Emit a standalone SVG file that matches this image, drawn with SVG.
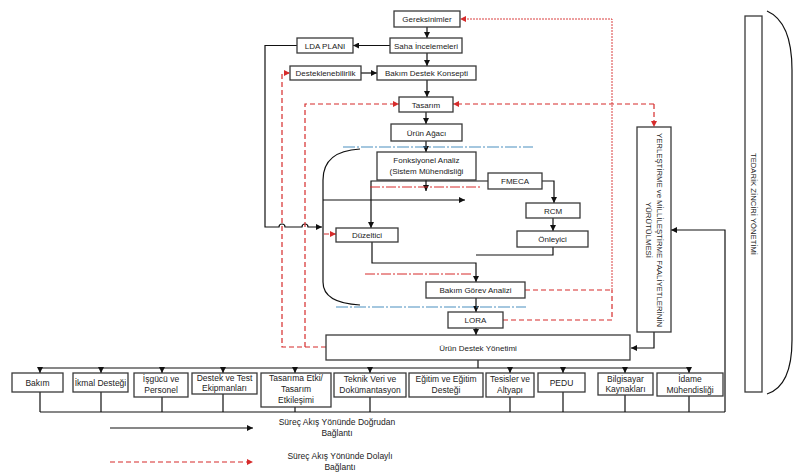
<svg xmlns="http://www.w3.org/2000/svg" width="800" height="476" viewBox="0 0 800 476">
<defs>
<style>
.b{fill:#fff;stroke:#3a3a3a;stroke-width:1.3}
.t{font-family:"Liberation Sans",Arial,sans-serif;font-size:8px;fill:#222;text-anchor:middle}
.t2{font-family:"Liberation Sans",Arial,sans-serif;font-size:8.5px;fill:#222;text-anchor:middle}
.k{fill:none;stroke:#111;stroke-width:1.2}
.ka{fill:none;stroke:#111;stroke-width:1.2;marker-end:url(#ab)}
.r{fill:none;stroke:#d62b2b;stroke-width:1.2;stroke-dasharray:5,3}
.ra{fill:none;stroke:#d62b2b;stroke-width:1.2;stroke-dasharray:5,3;marker-end:url(#ar)}
.rf{fill:none;stroke:#d62b2b;stroke-width:0.9;stroke-dasharray:2,1}
.rd{fill:none;stroke:#d62b2b;stroke-width:1;stroke-dasharray:10,2,2,2}
.bd{fill:none;stroke:#4a8fc0;stroke-width:1.2;stroke-dasharray:12,2,2,2}
</style>
<marker id="ab" viewBox="0 0 10 10" refX="10" refY="5" markerWidth="6" markerHeight="6" markerUnits="userSpaceOnUse" orient="auto"><path d="M0,0 L10,5 L0,10z" fill="#111"/></marker>
<marker id="ar" viewBox="0 0 10 10" refX="10" refY="5" markerWidth="6" markerHeight="6" markerUnits="userSpaceOnUse" orient="auto"><path d="M0,0 L10,5 L0,10z" fill="#d62b2b"/></marker>
</defs>
<rect width="800" height="476" fill="#fff"/>

<g id="connectors">
<!-- main flow black -->
<path class="ka" d="M427,27 V38"/>
<path class="ka" d="M427,53 V66"/>
<path class="ka" d="M427,80 V97"/>
<path class="ka" d="M426,112 V124"/>
<path class="ka" d="M426,141 V152"/>
<path class="ka" d="M426,180 V191"/>
<path class="ka" d="M390,45.5 H353"/>
<path class="ka" d="M361,73 H377"/>
<path class="ka" d="M297,45.5 H265 V227 H279 a3,3 0 0 1 6,0 H302 a3,3 0 0 1 6,0 H322"/>
<path class="k" d="M360,149 Q323,151 323,180 V282 Q323,303 360,305"/>
<path class="ka" d="M323,200 H465"/>
<path class="ka" d="M488,181 H371 V228"/>
<path class="ka" d="M542,181 H554 V203"/>
<path class="ka" d="M553,218 V231"/>
<path class="ka" d="M372,242 V263 H476 V282"/>
<path class="k" d="M553,247 V255 H476"/>
<path class="ka" d="M476,298 V312"/>
<path class="ka" d="M476,328 V335"/>
<path class="ka" d="M654,332 V348 H631"/>
<path class="ka" d="M725,412 V230 H671"/>
<!-- distribution bars -->
<path class="k" d="M478,360 V368"/>
<path class="k" d="M40,368 H689"/>
<path class="k" d="M40,412 H725"/>
<path class="ka" d="M40,368 V373"/>
<path class="ka" d="M101,368 V373"/>
<path class="ka" d="M162,368 V373"/>
<path class="ka" d="M223,368 V373"/>
<path class="ka" d="M295,368 V373"/>
<path class="ka" d="M370,368 V373"/>
<path class="ka" d="M510,368 V373"/>
<path class="ka" d="M563,368 V373"/>
<path class="ka" d="M625,368 V373"/>
<path class="ka" d="M689,368 V373"/>
<path class="k" d="M40,392 V412 M101,392 V412 M162,397 V412 M223,394 V412 M295,407 V412 M370,397 V412 M510,397 V412 M563,392 V412 M625,395 V412 M689,396 V412"/>
<!-- red indirect -->
<path class="rf" d="M612,290 V19 H466"/>
<path fill="#d62b2b" d="M460,19 L466,16 L466,22z"/>
<path class="r" d="M525,290 H612"/>
<path class="r" d="M503,320 H612 V290"/>
<path class="ra" d="M326,347 H282 V73 H290"/>
<path class="ra" d="M305,347 V104 H399"/>
<path class="ra" d="M324,234 H336"/>
<path class="ra" d="M654,104 H453"/>
<path class="ra" d="M654,104 V127"/>
<!-- dash-dot guide lines -->
<path class="bd" d="M343,147 H533"/>
<path class="bd" d="M336,307 H526"/>
<path class="rd" d="M370,187 H480"/>
<path class="rd" d="M365,274 H473"/>
<!-- supply chain bracket -->
<path class="k" d="M767,11 Q792,22 792,70 V340 Q792,386 767,394"/>
</g>

<g id="gereksinimler"><rect class="b" x="394" y="11" width="66" height="16"/><text class="t" x="427" y="22">Gereksinimler</text></g>
<g id="saha"><rect class="b" x="390" y="38" width="72" height="15"/><text class="t" x="426" y="48.5">Saha İncelemeleri</text></g>
<g id="lda"><rect class="b" x="297" y="38" width="56" height="15"/><text class="t" x="325" y="48.5">LDA PLANI</text></g>
<g id="desteklenebilirlik"><rect class="b" x="290" y="66" width="71" height="14"/><text class="t" x="325.5" y="76">Desteklenebilirlik</text></g>
<g id="bdk"><rect class="b" x="377" y="66" width="99" height="14"/><text class="t" x="426.5" y="76">Bakım Destek Konsepti</text></g>
<g id="tasarim"><rect class="b" x="399" y="97" width="54" height="15"/><text class="t" x="426" y="107.5">Tasarım</text></g>
<g id="urunagaci"><rect class="b" x="391" y="124" width="71" height="17"/><text class="t" x="426.5" y="135.5">Ürün Ağacı</text></g>
<g id="fonksiyonel"><rect class="b" x="377" y="152" width="99" height="28"/><text class="t" x="426.5" y="163">Fonksiyonel Analiz</text><text class="t" x="426.5" y="174">(Sistem Mühendisliği</text></g>
<g id="fmeca"><rect class="b" x="488" y="173" width="54" height="16"/><text class="t" x="515" y="184">FMECA</text></g>
<g id="rcm"><rect class="b" x="526" y="203" width="54" height="15"/><text class="t" x="553" y="213.5">RCM</text></g>
<g id="duzeltici"><rect class="b" x="336" y="228" width="62" height="14"/><text class="t" x="367" y="238">Düzeltici</text></g>
<g id="onleyici"><rect class="b" x="517" y="231" width="71" height="16"/><text class="t" x="552.5" y="242">Önleyici</text></g>
<g id="bga"><rect class="b" x="426" y="282" width="99" height="16"/><text class="t" x="475.5" y="293">Bakım Görev Analizi</text></g>
<g id="lora"><rect class="b" x="448" y="312" width="55" height="16"/><text class="t" x="475.5" y="323">LORA</text></g>
<g id="udy"><rect class="b" x="326" y="335" width="304" height="25"/><text class="t" x="478" y="350.5">Ürün Destek Yönetimi</text></g>
<g id="yerlestirme"><rect class="b" x="637" y="127" width="34" height="205"/>
<g transform="translate(654,230) rotate(90)"><text class="t" x="0" y="-3" textLength="194" lengthAdjust="spacingAndGlyphs">YERLEŞTİRME ve MİLLİLEŞTİRME FAALİYETLERİNİN</text><text class="t" x="0" y="8" textLength="56" lengthAdjust="spacingAndGlyphs">YÜRÜTÜLMESİ</text></g></g>
<g id="tedarik"><rect class="b" x="745" y="16" width="17" height="376"/>
<g transform="translate(753.5,204) rotate(90)"><text class="t" x="0" y="3" textLength="102" lengthAdjust="spacingAndGlyphs">TEDARİK ZİNCİRİ YÖNETİMİ</text></g></g>

<g id="bakim"><rect class="b" x="12" y="373" width="51" height="19"/><text class="t2" x="37.5" y="385.5">Bakım</text></g>
<g id="ikmal"><rect class="b" x="73" y="373" width="55" height="19"/><text class="t2" x="100.5" y="385.5">İkmal Desteği</text></g>
<g id="isgucu"><rect class="b" x="134" y="373" width="54" height="24"/><text class="t2" x="161" y="382">İşgücü ve</text><text class="t2" x="161" y="393">Personel</text></g>
<g id="destektest"><rect class="b" x="192" y="373" width="65" height="21"/><text class="t2" x="224.5" y="381">Destek ve Test</text><text class="t2" x="224.5" y="391">Ekipmanları</text></g>
<g id="tasarimaetki"><rect class="b" x="261" y="373" width="70" height="34"/><text class="t2" x="296" y="381">Tasarıma Etki/</text><text class="t2" x="296" y="392">Tasarım</text><text class="t2" x="296" y="403">Etkileşimi</text></g>
<g id="teknik"><rect class="b" x="334" y="373" width="72" height="24"/><text class="t2" x="370" y="382">Teknik Veri ve</text><text class="t2" x="370" y="393">Dokümantasyon</text></g>
<g id="egitim"><rect class="b" x="409" y="373" width="74" height="24"/><text class="t2" x="446" y="382">Eğitim ve Eğitim</text><text class="t2" x="446" y="393">Desteği</text></g>
<g id="tesisler"><rect class="b" x="486" y="373" width="48" height="24"/><text class="t2" x="510" y="382">Tesisler ve</text><text class="t2" x="510" y="393">Altyapı</text></g>
<g id="pedu"><rect class="b" x="538" y="373" width="47" height="19"/><text class="t2" x="561.5" y="385.5">PEDU</text></g>
<g id="bilgisayar"><rect class="b" x="598" y="373" width="55" height="22"/><text class="t2" x="625.5" y="381.5">Bilgisayar</text><text class="t2" x="625.5" y="392">Kaynakları</text></g>
<g id="idame"><rect class="b" x="657" y="373" width="66" height="23"/><text class="t2" x="690" y="381.5">İdame</text><text class="t2" x="690" y="392.5">Mühendisliği</text></g>

<g id="legend">
<path class="ka" d="M110,428 H253"/>
<text class="t2" x="337" y="425">Süreç Akış Yönünde Doğrudan</text>
<text class="t2" x="337" y="436">Bağlantı</text>
<path class="ra" d="M110,462 H253"/>
<text class="t2" x="340" y="459">Süreç Akış Yönünde Dolaylı</text>
<text class="t2" x="340" y="470">Bağlantı</text>
</g>
</svg>
